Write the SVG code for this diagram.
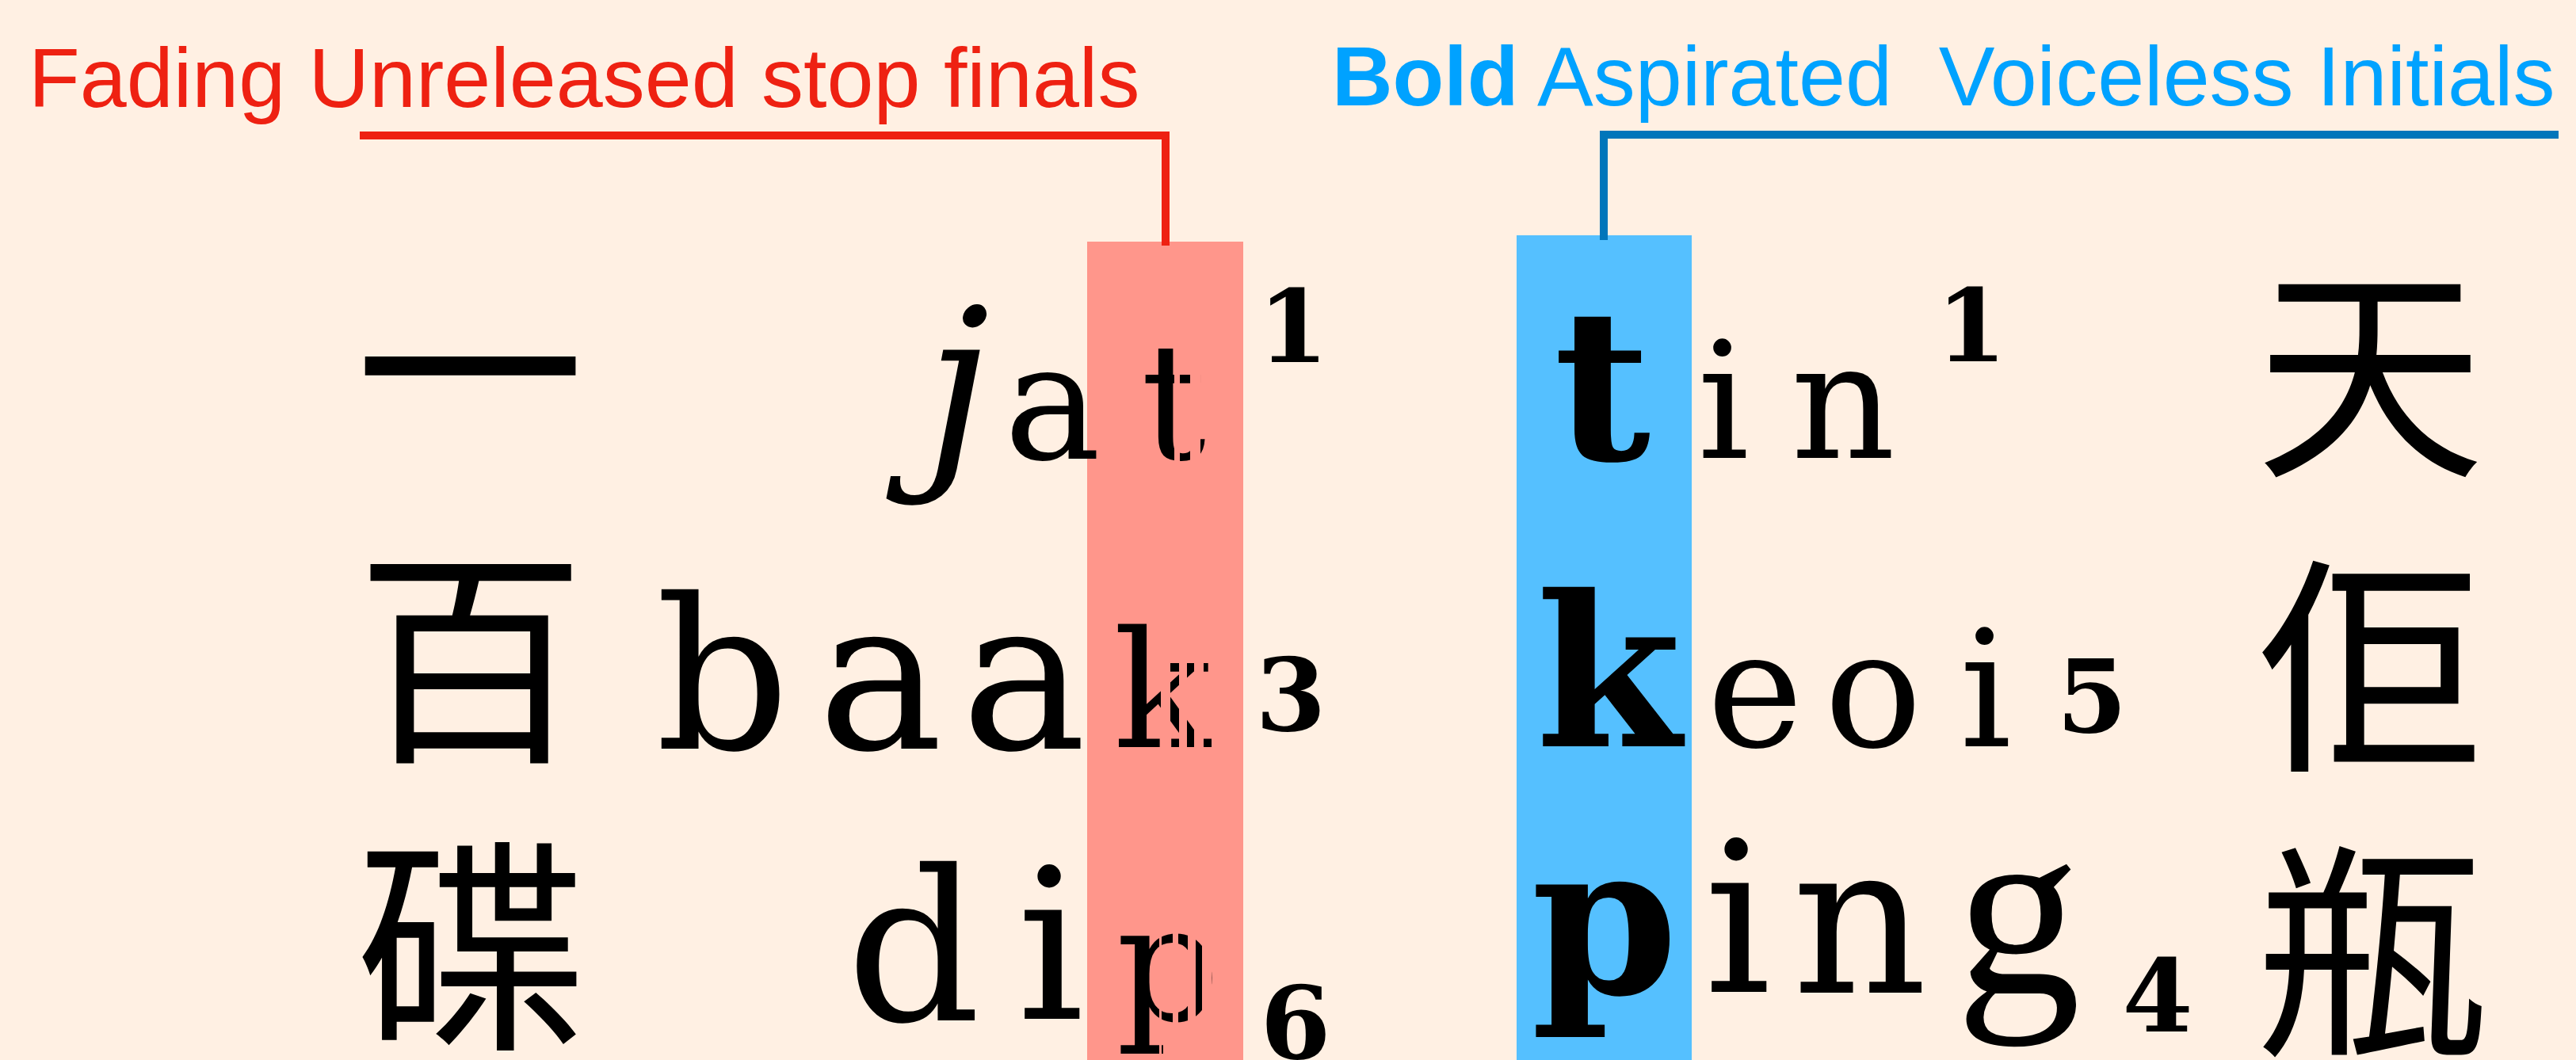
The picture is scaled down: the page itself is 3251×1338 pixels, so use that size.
<svg xmlns="http://www.w3.org/2000/svg" width="3251" height="1338" viewBox="0 0 3251 1338">
<defs>
<style>
.title{font-family:"Liberation Sans",Arial,sans-serif;font-size:106px;white-space:pre}
.red{fill:#ee2112}
.blu{fill:#00a2ff}
.lat{font-family:"DejaVu Serif",serif;fill:#000;text-anchor:middle}
.s{font-size:205px}
.l{font-size:265px}
.b{font-weight:bold}
.it{font-style:italic}
.num{font-size:128px;font-weight:bold}
.cjk{font-family:"Noto Sans CJK TC","Noto Sans CJK SC",sans-serif;font-size:290px;fill:#000;text-anchor:middle}
.conn{fill:none;stroke-width:10;stroke-linejoin:miter;stroke-linecap:butt}
</style>
<clipPath id="fadeT"><rect x="1372" y="300" width="110" height="320"/><rect x="1489" y="300" width="13" height="320"/><rect x="1515" y="300" width="10" height="320"/></clipPath>
<clipPath id="fadeK"><rect x="1372" y="650" width="93" height="320"/><rect x="1477" y="650" width="11" height="320"/><rect x="1498" y="650" width="9" height="320"/><rect x="1519" y="650" width="10" height="320"/></clipPath>
<clipPath id="fadeP"><rect x="1372" y="1050" width="91" height="300"/><rect x="1466" y="1050" width="14" height="300"/><rect x="1487" y="1050" width="12" height="300"/><rect x="1509" y="1050" width="8" height="300"/><rect x="1529" y="1050" width="5" height="300"/></clipPath>
</defs>
<rect x="0" y="0" width="3251" height="1338" fill="#fff0e3"/>
<g id="highlight-finals"><rect x="1372" y="305" width="197" height="1033" fill="#ff968b"/></g>
<g id="highlight-initials"><rect x="1914" y="297" width="221" height="1041" fill="#55c0ff"/></g>
<g id="connectors">
<path class="conn" stroke="#ee2112" d="M454,171 H1471 V310"/>
<path class="conn" stroke="#0076ba" d="M3229,170 H2024 V303"/>
</g>
<g id="label-finals"><text class="title red" x="36" y="135">Fading Unreleased stop finals</text></g>
<g id="label-initials"><text class="title blu" x="1681" y="133"><tspan font-weight="bold">Bold</tspan> Aspirated  Voiceless Initials</text></g>
<g id="word-jat1">
<text class="cjk" x="593" y="575">一</text>
<text class="lat l it" x="1208" y="579">j</text>
<text class="lat s" x="1328" y="579">a</text>
<text class="lat s" x="1481" y="579" clip-path="url(#fadeT)">t</text>
<text class="lat num" x="1632" y="457">1</text>
</g>
<g id="word-baak3">
<text class="cjk" x="594" y="940">百</text>
<text class="lat l" x="912" y="945">b</text>
<text class="lat l" x="1111" y="945">a</text>
<text class="lat l" x="1292" y="945">a</text>
<text class="lat s" x="1467" y="943" clip-path="url(#fadeK)">k</text>
<text class="lat num" x="1629" y="922">3</text>
</g>
<g id="word-dip6">
<text class="cjk" x="594" y="1303">碟</text>
<text class="lat l" x="1153" y="1288">d</text>
<text class="lat l" x="1326" y="1286">i</text>
<text class="lat s" x="1474" y="1287" clip-path="url(#fadeP)">p</text>
<text class="lat num" x="1635" y="1336">6</text>
</g>
<g id="word-tin1">
<text class="lat l b" x="2022" y="580">t</text>
<text class="lat s" x="2175" y="578">i</text>
<text class="lat s" x="2326" y="578">n</text>
<text class="lat num" x="2488" y="456">1</text>
<text class="cjk" x="2991" y="580">天</text>
</g>
<g id="word-keoi5">
<text class="lat l b" x="2030" y="942">k</text>
<text class="lat s" x="2215" y="942">e</text>
<text class="lat s" x="2364" y="942">o</text>
<text class="lat s" x="2506" y="942">i</text>
<text class="lat num" x="2640" y="924">5</text>
<text class="cjk" x="2990" y="951">佢</text>
</g>
<g id="word-ping4">
<text class="lat l b" x="2025" y="1254">p</text>
<text class="lat l" x="2193" y="1252">i</text>
<text class="lat l" x="2347" y="1253">n</text>
<text class="lat" x="2547" y="1253" style="font-family:'Liberation Serif',serif;font-size:316px">g</text>
<text class="lat num" x="2723" y="1302">4</text>
<text class="cjk" x="2992" y="1311">瓶</text>
</g>
</svg>
